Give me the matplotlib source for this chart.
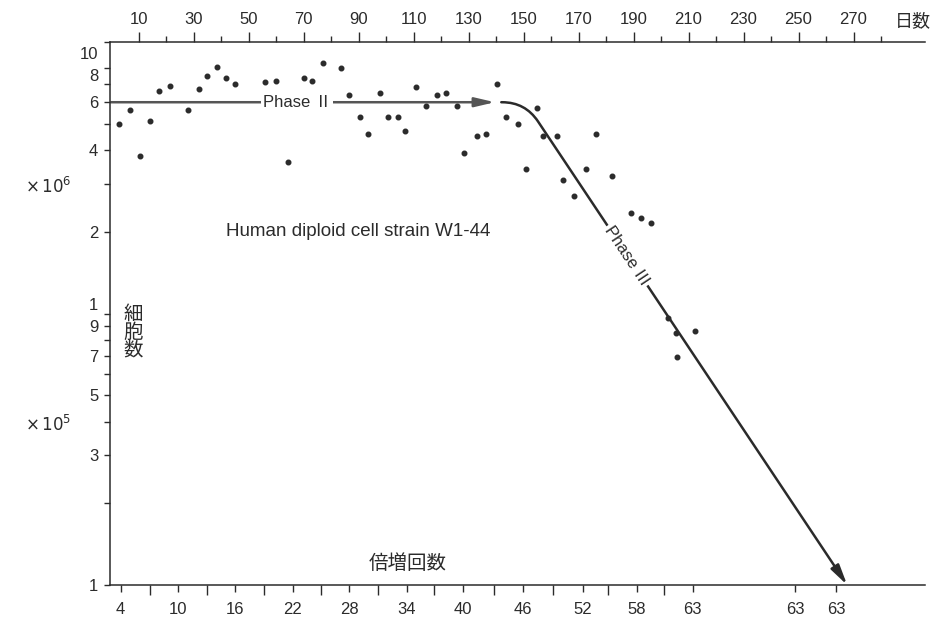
import math

import matplotlib
matplotlib.use("Agg")
import matplotlib.pyplot as plt
from matplotlib.patches import FancyArrowPatch
from matplotlib.ticker import FixedLocator, FixedFormatter, NullFormatter
from matplotlib.transforms import ScaledTranslation

plt.rcParams['font.family'] = ['Liberation Sans', 'Noto Sans CJK JP', 'DejaVu Sans']

# culture day of each cell count
cell_days = [2.9, 6.9, 10.4, 14.2, 17.6, 21.5, 28.1, 31.9, 35.0, 38.4, 41.8, 45.1,
             56.0, 59.9, 64.2, 70.2, 73.2, 77.2, 83.5, 86.7, 90.5, 93.3, 97.8, 100.6,
             104.5, 107.0, 110.9, 114.5, 118.7, 121.7, 125.9, 128.5, 133.2, 136.4, 140.3,
             143.7, 147.8, 150.8, 155.0, 157.2, 162.3, 164.5, 168.5, 172.7, 176.4, 182.1,
             189.0, 192.7, 196.4, 202.7, 205.5, 205.9, 212.4]
# cell counts, x10^6
cell_counts = [5.0, 5.6, 3.8, 5.1, 6.6, 6.9, 5.6, 6.7, 7.5, 8.1, 7.4, 7.0,
               7.1, 7.2, 3.6, 7.4, 7.2, 8.4, 8.0, 6.4, 5.3, 4.6, 6.5, 5.3,
               5.3, 4.7, 6.8, 5.8, 6.4, 6.5, 5.8, 3.9, 4.5, 4.6, 7.0,
               5.3, 5.0, 3.4, 5.7, 4.5, 4.5, 3.1, 2.7, 3.4, 4.6, 3.2,
               2.35, 2.25, 2.16, 0.96, 0.85, 0.69, 0.86]

# schematic phase lines (day, cells)
phase2_days = [0.0, 139.6]
phase2_level = 6.0e6
phase3_start = (141.9, 6.0e6)
phase3_corner_day = 150.6
phase3_end = (267.7, 1.0e5)

# bottom axis: population doublings placed on the day scale
doubling_days = [3.5, 14.2, 24.5, 34.8, 45.1, 55.7, 66.1, 76.4, 86.7, 97.2, 107.5, 117.6,
                 127.9, 139.4, 149.7, 160.8, 171.5, 180.8, 191.2, 201.2, 211.5, 248.7, 263.6]
doubling_labels = ['4', '', '10', '', '16', '', '22', '', '28', '', '34', '', '40', '',
                   '46', '', '52', '', '58', '', '63', '63', '63']

# top axis: days
day_ticks = list(range(10, 290, 10))
day_labels = [str(d) if (d // 10) % 2 == 1 else '' for d in day_ticks]

# left axis
y_major = [1e5, 3e5, 5e5, 7e5, 9e5, 1e6, 2e6, 4e6, 6e6, 8e6, 1e7]
y_major_labels = ['1', '3', '5', '7', '9', '1', '2', '4', '6', '8', '10']
y_minor = [2e5, 4e5, 6e5, 8e5, 3e6, 5e6, 7e6]

ink = '#2b2b2b'
W, H = 953, 620

fig = plt.figure(figsize=(W / 100, H / 100), dpi=100)
ax = fig.add_axes([110 / W, 35 / H, 815 / W, 543 / H])
ax.set_yscale('log')
ax.set_xlim(-0.4, 296)
ax.set_ylim(1e5, 1e7)

ax.plot(cell_days, [c * 1e6 for c in cell_counts], 'o', color=ink, ms=3.3, zorder=4)

# spines
for s in ['right', 'top']:
    ax.spines[s].set_visible(False)
for s in ['left', 'bottom']:
    ax.spines[s].set_linewidth(1.1)
    ax.spines[s].set_color(ink)

# y ticks
ax.yaxis.set_major_locator(FixedLocator(y_major))
ax.yaxis.set_major_formatter(FixedFormatter(y_major_labels))
ax.yaxis.set_minor_locator(FixedLocator(y_minor))
ax.yaxis.set_minor_formatter(NullFormatter())
ax.tick_params(axis='y', which='both', direction='out', length=4.5, width=1.0,
               color=ink, labelsize=12, labelcolor=ink, pad=4)
# the printed labels sit a little off their ticks near the crowded spots
label_shift_px = {1e6: 9, 8e6: -7, 1e7: -11}
for tick, loc in zip(ax.yaxis.get_major_ticks(), y_major):
    if loc in label_shift_px:
        off = ScaledTranslation(0, label_shift_px[loc] / 100, fig.dpi_scale_trans)
        tick.label1.set_transform(tick.label1.get_transform() + off)

# bottom ticks
lab_days = [d for d, l in zip(doubling_days, doubling_labels) if l]
lab_text = [l for l in doubling_labels if l]
unl_days = [d for d, l in zip(doubling_days, doubling_labels) if not l]
ax.xaxis.set_major_locator(FixedLocator(lab_days))
ax.xaxis.set_major_formatter(FixedFormatter(lab_text))
ax.xaxis.set_minor_locator(FixedLocator(unl_days))
ax.tick_params(axis='x', which='major', direction='out', length=5, width=1.0,
               color=ink, labelsize=12, labelcolor=ink, pad=7)
ax.tick_params(axis='x', which='minor', direction='out', length=7.5, width=1.0, color=ink)

# top axis
top = ax.twiny()
top.set_xlim(ax.get_xlim())
for s in ['right', 'left', 'bottom']:
    top.spines[s].set_visible(False)
top.spines['top'].set_linewidth(1.1)
top.spines['top'].set_color(ink)
top.xaxis.set_major_locator(FixedLocator([d for d, l in zip(day_ticks, day_labels) if l]))
top.xaxis.set_major_formatter(FixedFormatter([l for l in day_labels if l]))
top.xaxis.set_minor_locator(FixedLocator([d for d, l in zip(day_ticks, day_labels) if not l]))
top.tick_params(axis='x', which='major', direction='out', length=7.5, width=1.0,
                color=ink, labelsize=12, labelcolor=ink, pad=3)
top.tick_params(axis='x', which='minor', direction='out', length=4, width=1.0, color=ink)

# Phase II arrow
p2 = FancyArrowPatch((phase2_days[0], phase2_level), (phase2_days[1], phase2_level),
                     arrowstyle='-|>,head_length=12,head_width=2.8', mutation_scale=1,
                     shrinkA=0, shrinkB=0, color='#555555', lw=1.8, zorder=2)
ax.add_patch(p2)
ax.text(67.6, phase2_level, 'Phase Ⅱ', ha='center', va='center', fontsize=12, color=ink,
        bbox=dict(boxstyle='square,pad=0.1', fc='white', ec='none'), zorder=3)

# Phase III curve + arrow
pc = ax.transData.transform((phase3_corner_day, phase3_start[1]))
pe = ax.transData.transform(phase3_end)
angle_b = math.degrees(math.atan2(pc[1] - pe[1], pc[0] - pe[0]))
angle_txt = math.degrees(math.atan2(pe[1] - pc[1], pe[0] - pc[0]))
p3 = FancyArrowPatch(phase3_start, phase3_end,
                     connectionstyle=f'angle,angleA=0,angleB={angle_b},rad=23',
                     arrowstyle='-|>,head_length=12,head_width=2.8', mutation_scale=1,
                     shrinkA=0, shrinkB=0, color=ink, lw=1.8, zorder=2)
ax.add_patch(p3)
ax.text(187.6, 1.63e6, 'Phase Ⅲ', ha='center', va='center', fontsize=12, color=ink,
        rotation=angle_txt, rotation_mode='anchor',
        bbox=dict(boxstyle='square,pad=0.1', fc='white', ec='none'), zorder=3)

ax.text(89.8, 2.0e6, 'Human diploid cell strain W1-44', ha='center', va='center',
        fontsize=13.5, color=ink)
ax.text(108, 1.2e5, '倍増回数', ha='center', va='center', fontsize=14, color=ink)
ax.text(8, 8.5e5, '細\n胞\n数', ha='center', va='center', fontsize=14, color=ink,
        linespacing=1.0)

fig.text(913 / W, 1 - 22 / H, '日数', ha='center', va='center', fontsize=13, color=ink)
fig.text(48 / W, 1 - 186 / H, r'$\times\,10^6$', ha='center', va='center', fontsize=12, color=ink)
fig.text(48 / W, 1 - 424 / H, r'$\times\,10^5$', ha='center', va='center', fontsize=12, color=ink)

fig.savefig('out.png', dpi=100)
